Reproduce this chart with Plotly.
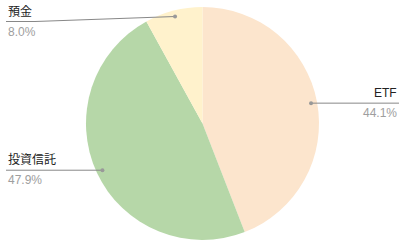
import numpy as np
import plotly.graph_objects as go

labels = ["ETF", "投資信託", "預金"]
values = [44.1, 47.9, 8.0]
colors = ["#fce5cd", "#b6d7a8", "#fff2cc"]

W, H = 412, 249
cx, cy, R = 202.5, 123.5, 116.5

fig = go.Figure(go.Pie(
    labels=labels, values=values, sort=False, direction="clockwise", rotation=0,
    marker=dict(colors=colors, line=dict(width=0)),
    textinfo="none", hoverinfo="label+percent", showlegend=False,
    domain=dict(x=[(cx - R) / W, (cx + R) / W], y=[1 - (cy + R) / H, 1 - (cy - R) / H]),
))

def px(x):
    return x / W

def py(y):
    return 1 - y / H

shapes = []
annotations = []
tot = sum(values)
cum = 0.0
font = "Arial, Liberation Sans, Noto Sans CJK JP, sans-serif"
for lab, v in zip(labels, values):
    mid = (cum + v / 2) / tot * 2 * np.pi
    cum += v
    dx = cx + 0.948 * R * np.sin(mid)
    dy = cy - 0.948 * R * np.cos(mid)
    pct = f"{v / tot * 100:.1f}%"
    if np.sin(mid) > 0:
        ex = 399
        path = f"M {px(dx)} {py(dy)} L {px(ex)} {py(dy)}"
        ly = dy
        xa, xanchor = px(ex), "right"
    else:
        ex = 6
        ly = max(dy, 21.5) if dy < 40 else dy
        bend = 35 if dy < 40 else dx
        path = f"M {px(dx)} {py(dy)} L {px(bend)} {py(ly)} L {px(ex)} {py(ly)}"
        xa, xanchor = px(ex), "left"
    shapes.append(dict(type="path", xref="paper", yref="paper", path=path,
                       line=dict(color="#888888", width=1)))
    shapes.append(dict(type="circle", xref="paper", yref="paper",
                       x0=px(dx - 2), x1=px(dx + 2), y0=py(dy + 2), y1=py(dy - 2),
                       fillcolor="#999999", line=dict(width=0)))
    annotations.append(dict(x=xa, y=py(ly - 1), xref="paper", yref="paper", text=lab,
                            showarrow=False, xanchor=xanchor, yanchor="bottom",
                            font=dict(size=12, color="#222222", family=font)))
    annotations.append(dict(x=xa, y=py(ly + 1), xref="paper", yref="paper", text=pct,
                            showarrow=False, xanchor=xanchor, yanchor="top",
                            font=dict(size=12, color="#9e9e9e", family=font)))

fig.update_layout(width=W, height=H, margin=dict(l=0, r=0, t=0, b=0),
                  paper_bgcolor="white", plot_bgcolor="white",
                  shapes=shapes, annotations=annotations)
fig.write_html("out.html")
